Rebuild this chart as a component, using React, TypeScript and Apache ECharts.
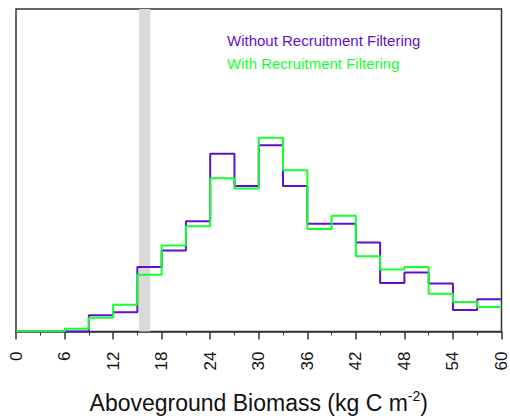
import React, { useEffect, useRef } from "react";
import * as echarts from "echarts";

const binEdges = [0, 3, 6, 9, 12, 15, 18, 21, 24, 27, 30, 33, 36, 39, 42, 45, 48, 51, 54, 57, 60];
const withoutFiltering = [0, 0, 0, 16.3, 19.3, 64.7, 81.3, 110.7, 178.7, 146.3, 187, 146.3, 108.3, 108.3, 89.3, 48.7, 59.3, 48.3, 21.7, 32.3];
const withFiltering = [0, 0, 2.7, 13.7, 27, 57, 86.3, 105.7, 154, 143.7, 194.7, 162, 103, 116.3, 75.7, 62.3, 64.7, 38, 29.7, 24.7];
const xTicks = [0, 6, 12, 18, 24, 30, 36, 42, 48, 54, 60];
const bandRange = [15.2, 16.6];
const seriesNames = ["Without Recruitment Filtering", "With Recruitment Filtering"];
const PURPLE = "#5c12cc";
const GREEN = "#14ff2c";

function stepData(vals: number[]) {
  return binEdges.map((x, i) => [x, vals[Math.min(i, vals.length - 1)]]);
}

export default function App() {
  const ref = useRef<HTMLDivElement>(null);
  useEffect(() => {
    if (!ref.current) return;
    const chart = echarts.init(ref.current, null, { renderer: "svg" });
    chart.setOption({
      animation: false,
      backgroundColor: "#fff",
      textStyle: { fontFamily: "Liberation Sans, Arial, Helvetica, sans-serif" },
      grid: {
        left: 16,
        right: 8,
        top: 9,
        bottom: 86,
        show: true,
        borderColor: "#333",
        borderWidth: 1.5,
        containLabel: false,
      },
      legend: {
        orient: "vertical",
        left: 217,
        top: 28,
        icon: "none",
        itemWidth: 0,
        itemHeight: 10,
        itemGap: 8,
        selectedMode: false,
        textStyle: { fontSize: 15 },
        data: [
          { name: seriesNames[0], textStyle: { color: PURPLE } },
          { name: seriesNames[1], textStyle: { color: GREEN } },
        ],
      },
      xAxis: {
        type: "value",
        min: 0,
        max: 60,
        interval: 6,
        name: "Aboveground Biomass (kg C m{sup|-2})",
        nameLocation: "middle",
        nameGap: 57,
        nameTextStyle: {
          fontSize: 23,
          color: "#111",
          rich: { sup: { fontSize: 14, verticalAlign: "top", padding: [0, 0, 14, 0], color: "#111" } },
        },
        axisLine: { show: true, lineStyle: { color: "#333", width: 1.5 } },
        axisTick: { show: true, length: 8, lineStyle: { color: "#333", width: 1.5 } },
        minorTick: { show: true, splitNumber: 2, length: 4, lineStyle: { color: "#333", width: 1 } },
        splitLine: { show: false },
        axisLabel: {
          rotate: 90,
          fontSize: 17,
          color: "#111",
          margin: 20,
          formatter: (v: number) => (xTicks.includes(v) ? String(v) : ""),
        },
      },
      yAxis: {
        type: "value",
        min: 0,
        max: 324,
        show: false,
        splitLine: { show: false },
      },
      series: [
        {
          name: "band",
          type: "line",
          data: [],
          z: 1,
          silent: true,
          markArea: {
            silent: true,
            itemStyle: { color: "#d9d9d9" },
            data: [[{ xAxis: bandRange[0] }, { xAxis: bandRange[1] }]],
          },
        },
        {
          name: seriesNames[0],
          type: "line",
          step: "end",
          showSymbol: false,
          z: 3,
          lineStyle: { color: PURPLE, width: 2 },
          itemStyle: { color: PURPLE },
          data: stepData(withoutFiltering),
        },
        {
          name: seriesNames[1],
          type: "line",
          step: "end",
          showSymbol: false,
          z: 4,
          lineStyle: { color: GREEN, width: 2 },
          itemStyle: { color: GREEN },
          data: stepData(withFiltering),
        },
      ],
    });
    return () => chart.dispose();
  }, []);
  return (
    <div
      ref={ref}
      style={{ position: "fixed", left: 0, top: 0, width: 510, height: 419 }}
    />
  );
}
